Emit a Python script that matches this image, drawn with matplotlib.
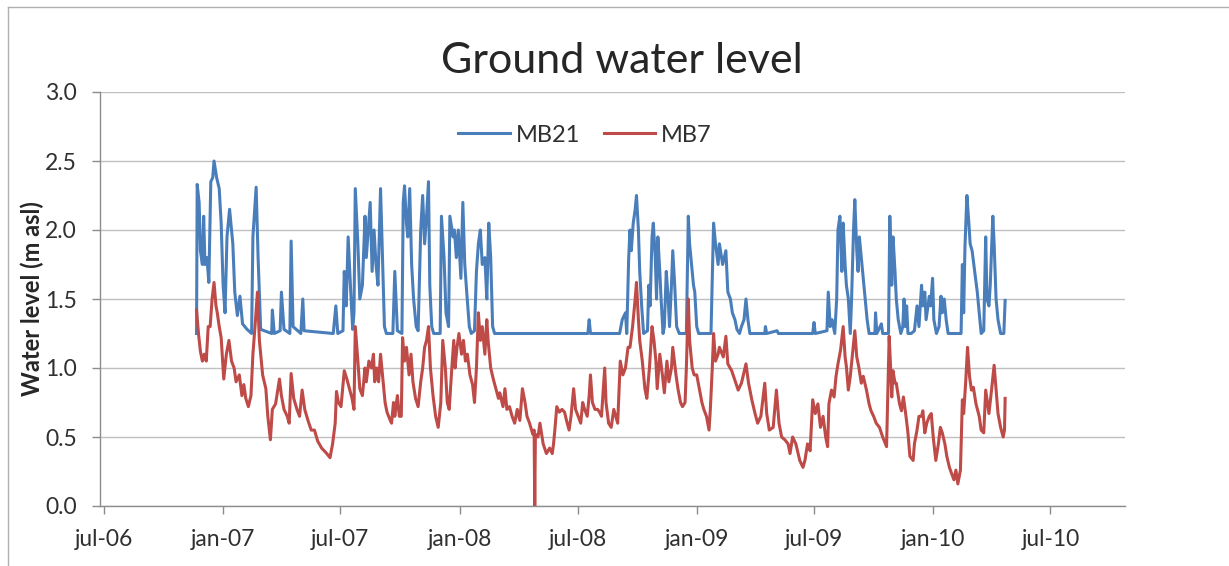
import numpy as np
import matplotlib
matplotlib.use("Agg")
import matplotlib.pyplot as plt
from matplotlib.lines import Line2D

# days counted from 1 July 2006
base = np.datetime64("2006-07-01")

mb21_day = [
    143, 144, 147, 149, 152, 154, 156, 159, 162, 165, 168, 170, 174, 178, 181, 184, 187, 190, 194, 199,
    202, 206, 210, 214, 221, 228, 230, 235, 238, 242, 259, 260, 263, 272, 274, 278, 287, 289, 292, 304,
    307, 309, 354, 358, 361, 369, 371, 374, 377, 381, 384, 386, 388, 392,
    395, 399, 403, 405, 408, 411, 414, 417, 420, 423, 427, 430, 433, 436, 446, 449, 453, 460, 462, 464,
    467, 469, 472, 475, 478, 482, 485, 489, 492, 495, 498, 501, 503, 506, 509, 519, 521, 525, 528, 532,
    534, 539, 541, 544, 547, 551, 554, 557, 560, 564, 567, 572, 575, 578, 581, 584, 588, 591, 594, 597,
    600, 603,
    747, 749, 751, 796, 800, 805, 807, 810, 812, 814, 817, 820, 822, 825, 827, 830, 833, 839, 841, 843,
    846, 848, 851, 853, 855, 858, 860, 863, 865, 868, 871, 873, 876, 878, 881, 884, 888, 899, 902, 904,
    907, 910, 912, 915, 918, 937, 941, 944, 948,
    950, 955, 960, 963, 967, 970, 974, 977, 981, 984, 988, 991, 994, 997, 1020, 1021, 1023, 1039, 1041,
    1094, 1096, 1098, 1116, 1118, 1121, 1124, 1128, 1131, 1133, 1136, 1139, 1141, 1144, 1146, 1149, 1152,
    1154, 1157, 1159, 1162, 1164, 1166, 1169, 1171, 1174, 1178, 1181, 1190, 1191, 1193,
    1200, 1202, 1211, 1213, 1216, 1218, 1221, 1223, 1226, 1230, 1233, 1235, 1237, 1239, 1241, 1246, 1251,
    1255, 1258, 1262, 1264, 1267, 1269, 1274, 1276, 1279, 1281, 1285, 1289, 1292, 1294, 1297, 1300, 1303,
    1323, 1325, 1327, 1329, 1332, 1335, 1337, 1340, 1344, 1348, 1351, 1354, 1358, 1361, 1363, 1366, 1368,
    1372, 1374, 1377, 1380, 1384, 1389, 1391,
]
mb21_level = [
    1.25, 2.33, 2.20, 1.85, 1.75, 2.10, 1.75, 1.80, 1.62, 2.35, 2.38, 2.50, 2.38, 2.30, 2.05, 1.60, 1.40, 1.95, 2.15, 1.90,
    1.55, 1.38, 1.52, 1.32, 1.28, 1.25, 1.95, 2.31, 1.80, 1.28, 1.25, 1.42, 1.25, 1.27, 1.55, 1.28, 1.25, 1.92, 1.30, 1.25,
    1.50, 1.27, 1.25, 1.45, 1.25, 1.27, 1.70, 1.45, 1.95, 1.55, 1.28, 1.40, 2.30, 1.90,
    1.50, 1.60, 2.10, 1.80, 2.00, 2.20, 1.70, 2.00, 1.75, 1.60, 2.30, 1.80, 1.30, 1.25, 1.25, 1.70, 1.27, 1.25, 2.20, 2.32,
    2.05, 1.95, 2.30, 1.75, 1.50, 1.30, 1.27, 2.00, 2.25, 1.90, 2.10, 2.35, 1.60, 1.30, 1.25, 1.25, 2.10, 1.80, 1.40, 1.30,
    2.10, 1.95, 2.00, 1.80, 2.00, 1.65, 2.20, 1.75, 1.55, 1.30, 1.25, 1.27, 1.70, 1.90, 2.00, 1.75, 1.80, 1.50, 2.05, 1.80,
    1.30, 1.25,
    1.25, 1.35, 1.25, 1.25, 1.35, 1.40, 1.25, 1.80, 2.00, 1.85, 2.05, 2.15, 2.25, 2.00, 1.70, 1.45, 1.25, 1.27, 1.60, 1.45,
    1.95, 2.05, 1.80, 1.50, 1.95, 1.70, 1.50, 1.25, 1.30, 1.70, 1.50, 1.30, 1.60, 1.85, 1.60, 1.30, 1.25, 1.25, 2.10, 1.90,
    1.75, 1.60, 1.55, 1.30, 1.25, 1.25, 2.05, 1.90, 1.75,
    1.90, 1.75, 1.85, 1.55, 1.50, 1.40, 1.35, 1.28, 1.25, 1.30, 1.35, 1.50, 1.35, 1.25, 1.25, 1.30, 1.25, 1.27, 1.25,
    1.25, 1.33, 1.25, 1.27, 1.55, 1.30, 1.35, 1.25, 1.50, 2.00, 2.10, 1.70, 2.05, 1.75, 1.60, 1.50, 1.25,
    1.50, 2.00, 2.22, 1.85, 1.70, 1.95, 1.80, 1.70, 1.55, 1.35, 1.25, 1.25, 1.40, 1.25,
    1.32, 1.25, 1.25, 2.10, 1.60, 1.95, 1.70, 1.50, 1.35, 1.25, 1.30, 1.50, 1.30, 1.45, 1.25, 1.25, 1.27,
    1.45, 1.30, 1.60, 1.45, 1.55, 1.35, 1.52, 1.45, 1.65, 1.35, 1.25, 1.30, 1.52, 1.40, 1.50, 1.35, 1.25,
    1.25, 1.75, 1.40, 1.88, 2.25, 2.05, 1.90, 1.85, 1.70, 1.55, 1.40, 1.25, 1.27, 1.95, 1.50, 1.45, 1.60,
    2.10, 1.90, 1.50, 1.35, 1.25, 1.25, 1.49,
]

mb7_day = [
    143, 146, 149, 152, 155, 158, 161, 164, 167, 170, 173, 175, 178, 181, 185, 189, 193, 197, 201, 204,
    209, 213, 216, 219, 223, 227, 230, 234, 237, 240, 245, 250, 253, 257, 260, 265, 271, 274, 278, 283,
    286, 289, 293, 298, 302, 306, 310, 315, 320, 325, 330, 336, 344, 349, 353, 357, 359, 362, 366, 371,
    375, 379, 383, 386, 388, 392,
    395, 399, 403, 405, 409, 413, 416, 418, 421, 424, 427, 430, 434, 437, 442, 444, 447, 449, 453, 456,
    459, 461, 464, 467, 471, 474, 477, 481, 485, 489, 492, 495, 498, 501, 504, 508, 512, 516, 520, 523,
    527, 530, 533, 537, 540, 542, 545, 548, 552, 555, 558, 561, 565, 569, 572, 575, 578, 581, 584, 588,
    591, 593, 597, 601, 605, 609, 611, 616, 619, 622, 626, 630, 634, 638, 642, 646, 650, 653, 657, 662,
    664, 665, 666, 670, 673, 678, 683, 688, 692,
    694, 696, 699, 703, 707, 711, 714, 718, 721, 725, 728, 732, 736, 739, 742, 746, 749, 751, 754, 758,
    762, 765, 768, 773, 775, 779, 783, 787, 790, 793, 797, 801, 805, 809, 812, 816, 820, 822, 825, 827,
    831, 835, 838, 842, 846, 849, 852, 854, 858, 862, 865, 869, 872, 876, 878, 883, 886, 890, 893, 897,
    899, 902, 904, 908, 911, 915, 919, 923, 926, 930, 934, 936, 939, 941, 944, 948,
    950, 956, 960, 963, 969, 974, 979, 984, 991, 995, 1000, 1005, 1009, 1014, 1020, 1023, 1027, 1033,
    1038, 1042, 1046, 1051, 1056, 1059, 1063, 1068, 1074, 1079, 1082, 1086, 1090, 1094, 1098, 1102,
    1106, 1110, 1114, 1117, 1119, 1123, 1127, 1130, 1133, 1137, 1141, 1144, 1146, 1149, 1152, 1156,
    1159, 1162, 1165, 1169, 1172, 1177, 1181, 1184, 1188, 1192,
    1197, 1202, 1208, 1212, 1214, 1216, 1218, 1221, 1223, 1228, 1231, 1234, 1238, 1241, 1244, 1249,
    1251, 1255, 1258, 1262, 1264, 1267, 1270, 1274, 1277, 1280, 1284, 1288, 1291, 1294, 1298, 1301,
    1305, 1308, 1312, 1315, 1318, 1322, 1325, 1327, 1330, 1333, 1336, 1339, 1342, 1346, 1351, 1354,
    1358, 1361, 1364, 1366, 1370, 1374, 1377, 1380, 1384, 1388, 1390, 1391,
]
mb7_level = [
    1.42, 1.25, 1.12, 1.05, 1.10, 1.05, 1.30, 1.30, 1.50, 1.62, 1.45, 1.40, 1.30, 1.22, 0.92, 1.10, 1.20, 1.05, 1.00, 0.90,
    0.95, 0.80, 0.88, 0.78, 0.72, 0.80, 1.10, 1.35, 1.55, 1.20, 0.95, 0.85, 0.65, 0.48, 0.70, 0.74, 0.92, 0.80, 0.70, 0.65,
    0.60, 0.96, 0.78, 0.70, 0.65, 0.84, 0.70, 0.62, 0.55, 0.55, 0.47, 0.42, 0.38, 0.35, 0.45, 0.60, 0.83, 0.75, 0.72, 0.98,
    0.92, 0.85, 0.78, 0.70, 1.30, 1.05,
    0.85, 0.80, 1.00, 0.90, 1.05, 1.00, 1.10, 0.90, 1.00, 0.90, 1.10, 0.95, 0.75, 0.68, 0.62, 0.60, 0.75, 0.65, 0.80, 0.65,
    0.65, 1.22, 1.05, 1.15, 0.95, 1.10, 0.90, 0.78, 0.72, 0.90, 1.00, 1.15, 1.20, 1.30, 1.00, 0.80, 0.65, 0.57, 0.75, 1.20,
    1.00, 0.75, 0.70, 1.00, 1.20, 1.00, 1.15, 1.25, 1.10, 1.20, 1.05, 1.10, 0.95, 0.88, 0.75, 1.00, 1.40, 1.20, 1.30, 1.10,
    1.35, 1.20, 1.00, 0.92, 0.85, 0.78, 0.82, 0.72, 0.85, 0.70, 0.72, 0.65, 0.60, 0.70, 0.62, 0.85, 0.75, 0.65, 0.60, 0.52,
    0.55, 0.00, 0.52, 0.50, 0.60, 0.45, 0.38, 0.42, 0.38,
    0.45, 0.55, 0.72, 0.68, 0.70, 0.68, 0.62, 0.55, 0.65, 0.85, 0.70, 0.65, 0.60, 0.75, 0.70, 0.65, 0.80, 0.95, 0.75, 0.70,
    0.70, 0.68, 0.65, 1.00, 0.75, 0.60, 0.57, 0.70, 0.65, 0.60, 1.05, 0.95, 1.00, 1.15, 1.15, 1.30, 1.50, 1.62, 1.35, 1.20,
    1.05, 0.85, 0.78, 1.00, 1.30, 1.20, 1.05, 0.85, 1.10, 0.95, 0.82, 1.05, 0.90, 1.00, 1.15, 0.95, 0.85, 0.75, 0.72, 0.75,
    1.00, 1.50, 1.20, 1.00, 0.95, 0.95, 0.85, 0.75, 0.70, 0.65, 0.55, 0.70, 1.00, 1.25, 1.05, 1.10,
    1.15, 1.08, 1.23, 1.03, 0.98, 0.91, 0.84, 0.89, 1.03, 0.89, 0.77, 0.67, 0.60, 0.65, 0.89, 0.67, 0.55, 0.57,
    0.84, 0.60, 0.50, 0.48, 0.45, 0.38, 0.50, 0.45, 0.33, 0.28, 0.33, 0.45, 0.40, 0.77, 0.67, 0.74,
    0.57, 0.65, 0.50, 0.43, 0.74, 0.84, 0.79, 0.94, 1.03, 1.13, 1.30, 1.08, 1.01, 0.84, 0.94, 1.13,
    1.27, 1.08, 1.01, 0.89, 0.94, 0.84, 0.74, 0.69, 0.65, 0.60,
    0.57, 0.50, 0.43, 1.23, 1.03, 0.79, 0.98, 0.89, 0.89, 0.74, 0.69, 0.79, 0.65, 0.53, 0.36, 0.33,
    0.45, 0.55, 0.65, 0.65, 0.69, 0.53, 0.60, 0.65, 0.67, 0.50, 0.33, 0.45, 0.57, 0.53, 0.45, 0.36,
    0.28, 0.24, 0.19, 0.26, 0.16, 0.26, 0.77, 0.67, 0.89, 1.15, 0.94, 0.84, 0.86, 0.74, 0.65, 0.55,
    0.53, 0.84, 0.74, 0.67, 0.84, 1.02, 0.84, 0.67, 0.57, 0.50, 0.55, 0.78,
]

tick_dates = ["2006-07-01", "2007-01-01", "2007-07-01", "2008-01-01", "2008-07-01",
              "2009-01-01", "2009-07-01", "2010-01-01", "2010-07-01"]
tick_labels = ["jul-06", "jan-07", "jul-07", "jan-08", "jul-08",
               "jan-09", "jul-09", "jan-10", "jul-10"]

plt.rcParams["font.family"] = ["Lato", "DejaVu Sans"]

fig = plt.figure(figsize=(12.29, 5.66), dpi=100)
ax = fig.add_axes([100 / 1229, 1 - 506 / 566, 1025 / 1229, 414 / 566])

ax.plot(base + np.array(mb21_day, dtype="timedelta64[D]"), mb21_level,
        color="#4A7EBB", lw=2.2, label="MB21")
ax.plot(base + np.array(mb7_day, dtype="timedelta64[D]"), mb7_level,
        color="#BE4B48", lw=2.2, label="MB7")

ax.set_xlim(base - np.timedelta64(6, "D"), base + np.timedelta64(1576, "D"))
ax.set_ylim(0, 3.0)
ax.set_xticks(np.array(tick_dates, dtype="datetime64[D]"))
ax.set_xticklabels(tick_labels)
ax.set_yticks(np.arange(0, 3.01, 0.5))
ax.set_yticklabels([f"{v:.1f}" for v in np.arange(0, 3.01, 0.5)])

ax.yaxis.grid(True, color="#c0c0c0", lw=1.0)
ax.set_axisbelow(True)
for side in ["top", "right"]:
    ax.spines[side].set_visible(False)
for side in ["left", "bottom"]:
    ax.spines[side].set_color("#8c8c8c")
    ax.spines[side].set_linewidth(1.0)
ax.tick_params(axis="both", colors="#8c8c8c", labelcolor="#303030", labelsize=16.5,
               length=5.5, width=1.0, direction="out")
ax.tick_params(axis="y", pad=11)
ax.tick_params(axis="x", pad=11)

fig.text(32 / 1229, 1 - 299 / 566, "Water level (m asl)", rotation=90,
         ha="center", va="center", fontsize=17, fontweight="bold", color="#262626")
fig.text(622 / 1229, 1 - 73 / 566, "Ground water level", ha="center", va="baseline",
         fontsize=31, color="#262626")

ax.legend(loc="center", bbox_to_anchor=(0.473, 0.896), ncol=2, frameon=False,
          fontsize=17, handlelength=2.2, handletextpad=0.25, columnspacing=1.0,
          labelcolor="#303030")

# chart area border
fig.add_artist(Line2D([8 / 1229, 1.0], [1 - 7 / 566, 1 - 7 / 566], color="#b0b0b0", lw=1.0))
fig.add_artist(Line2D([8 / 1229, 8 / 1229], [0.0, 1 - 7 / 566], color="#b0b0b0", lw=1.0))

fig.savefig("out.png", dpi=100, facecolor="white")
